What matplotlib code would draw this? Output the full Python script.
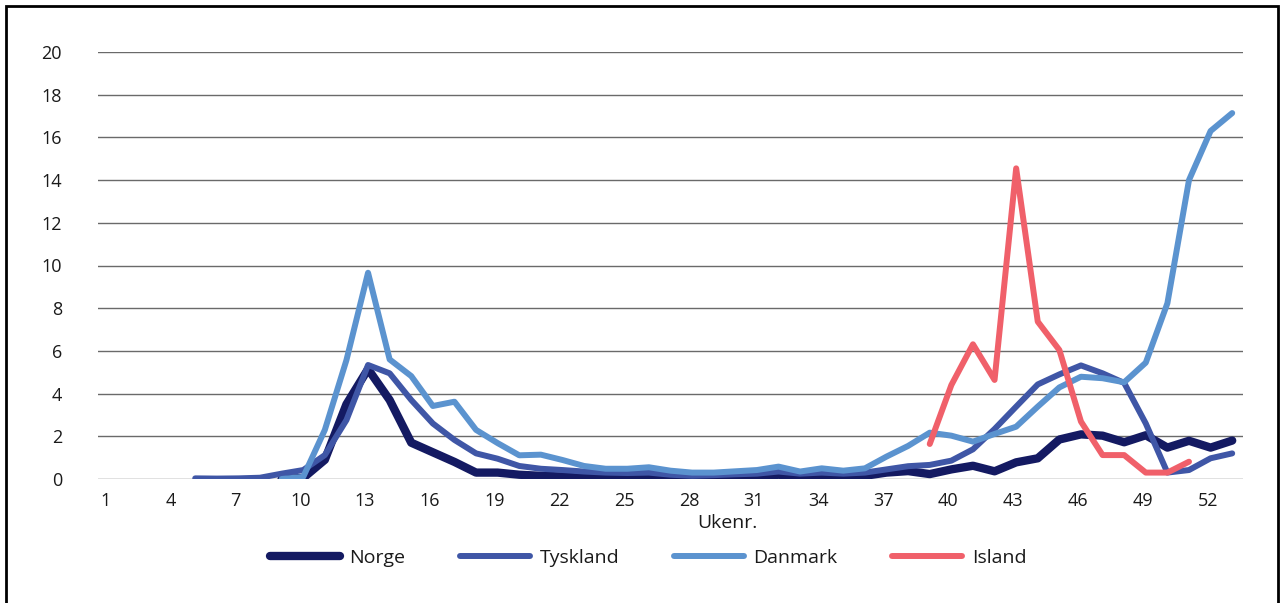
import numpy as np
import matplotlib
matplotlib.use("Agg")
import matplotlib.pyplot as plt
from matplotlib.patches import Rectangle
from matplotlib.transforms import ScaledTranslation

plt.rcParams['font.family'] = ['Open Sans', 'DejaVu Sans']

weeks = list(range(1, 54))
xtick_labels = [str(w) for w in range(1, 54, 3)]

norge_start = 9
norge = [0.0, 0.05, 0.9, 3.5, 5.15, 3.7, 1.7, 1.25, 0.8, 0.3, 0.3, 0.2, 0.15, 0.12,
         0.05, 0.1, 0.05, 0.1, 0.05, 0.05, 0.05, 0.05, 0.1, 0.2, 0.1, 0.1, 0.1, 0.15,
         0.3, 0.37, 0.23, 0.45, 0.62, 0.36, 0.78, 0.97, 1.85, 2.09, 2.03, 1.72, 2.05,
         1.47, 1.79, 1.47, 1.8]

tyskland_start = 5
tyskland = [0.03, 0.02, 0.03, 0.06, 0.25, 0.42, 1.12, 2.76, 5.34, 4.95, 3.7, 2.6,
            1.83, 1.2, 0.95, 0.61, 0.48, 0.42, 0.35, 0.3, 0.28, 0.3, 0.2, 0.15, 0.18,
            0.22, 0.25, 0.35, 0.25, 0.3, 0.25, 0.3, 0.45, 0.6, 0.66, 0.86, 1.39, 2.34,
            3.39, 4.43, 4.9, 5.32, 4.95, 4.5, 2.6, 0.3, 0.42, 0.97, 1.2]

danmark_start = 9
danmark = [0.0, 0.1, 2.3, 5.57, 9.66, 5.6, 4.82, 3.42, 3.62, 2.3, 1.68, 1.11, 1.14,
           0.89, 0.61, 0.48, 0.48, 0.55, 0.39, 0.3, 0.3, 0.36, 0.42, 0.58, 0.35, 0.5,
           0.39, 0.5, 1.05, 1.55, 2.17, 2.03, 1.75, 2.11, 2.45, 3.39, 4.29, 4.79, 4.72,
           4.53, 5.45, 8.23, 14.0, 16.3, 17.14]

island_start = 39
island = [1.64, 4.4, 6.31, 4.64, 14.55, 7.37, 6.04, 2.69, 1.12, 1.12, 0.3, 0.3, 0.81]

series = [
    ("Norge", norge_start, norge, "#141a62", 6.0),
    ("Tyskland", tyskland_start, tyskland, "#3f56a6", 4.3),
    ("Danmark", danmark_start, danmark, "#5b93cf", 4.3),
    ("Island", island_start, island, "#f0606a", 4.3),
]

W, H = 1282, 603
fig = plt.figure(figsize=(W / 100, H / 100), dpi=100)
ax = fig.add_axes([98 / W, 1 - 479 / H, (1243 - 98) / W, (479 - 52) / H])

handles = []
for name, start, vals, color, lw in series:
    x = np.arange(start, start + len(vals))
    ln, = ax.plot(x, vals, color=color, lw=lw, solid_capstyle='round',
                  solid_joinstyle='round', label=name, zorder=3)
    handles.append(ln)

ax.set_xlim(0.5, 53.5)
ax.set_ylim(0, 20)
ax.set_yticks(np.arange(0, 21, 2))
ax.set_xticks(list(range(1, 54, 3)))
ax.set_xticklabels(xtick_labels)
ax.tick_params(axis='both', length=0, labelsize=13, colors='#1a1a1a')
ax.tick_params(axis='y', pad=26)
ax.tick_params(axis='x', pad=9)
shift = ScaledTranslation(-3 / 100, 0, fig.dpi_scale_trans)
for lab in ax.get_xticklabels():
    lab.set_transform(lab.get_transform() + shift)
ax.grid(axis='y', color='#6a6a6a', lw=1.0)
ax.set_axisbelow(True)
for s in ax.spines.values():
    s.set_visible(False)

fig.text(727 / W, 1 - 523 / H, "Ukenr.", ha='center', va='center', fontsize=14,
         color='#1a1a1a')

leg = fig.legend(handles=handles, loc='center', bbox_to_anchor=(648 / W, 1 - 558 / H),
                 ncol=4, frameon=False, fontsize=14, handlelength=3.6,
                 handletextpad=0.5, columnspacing=2.8)
for t in leg.get_texts():
    t.set_color('#1a1a1a')

fig.add_artist(Rectangle((6 / W, -0.01), (1278 - 6) / W, 1 - 6 / H + 0.01,
                         transform=fig.transFigure, fill=False, ec='black', lw=2.0))

fig.savefig("out.png", dpi=100)
